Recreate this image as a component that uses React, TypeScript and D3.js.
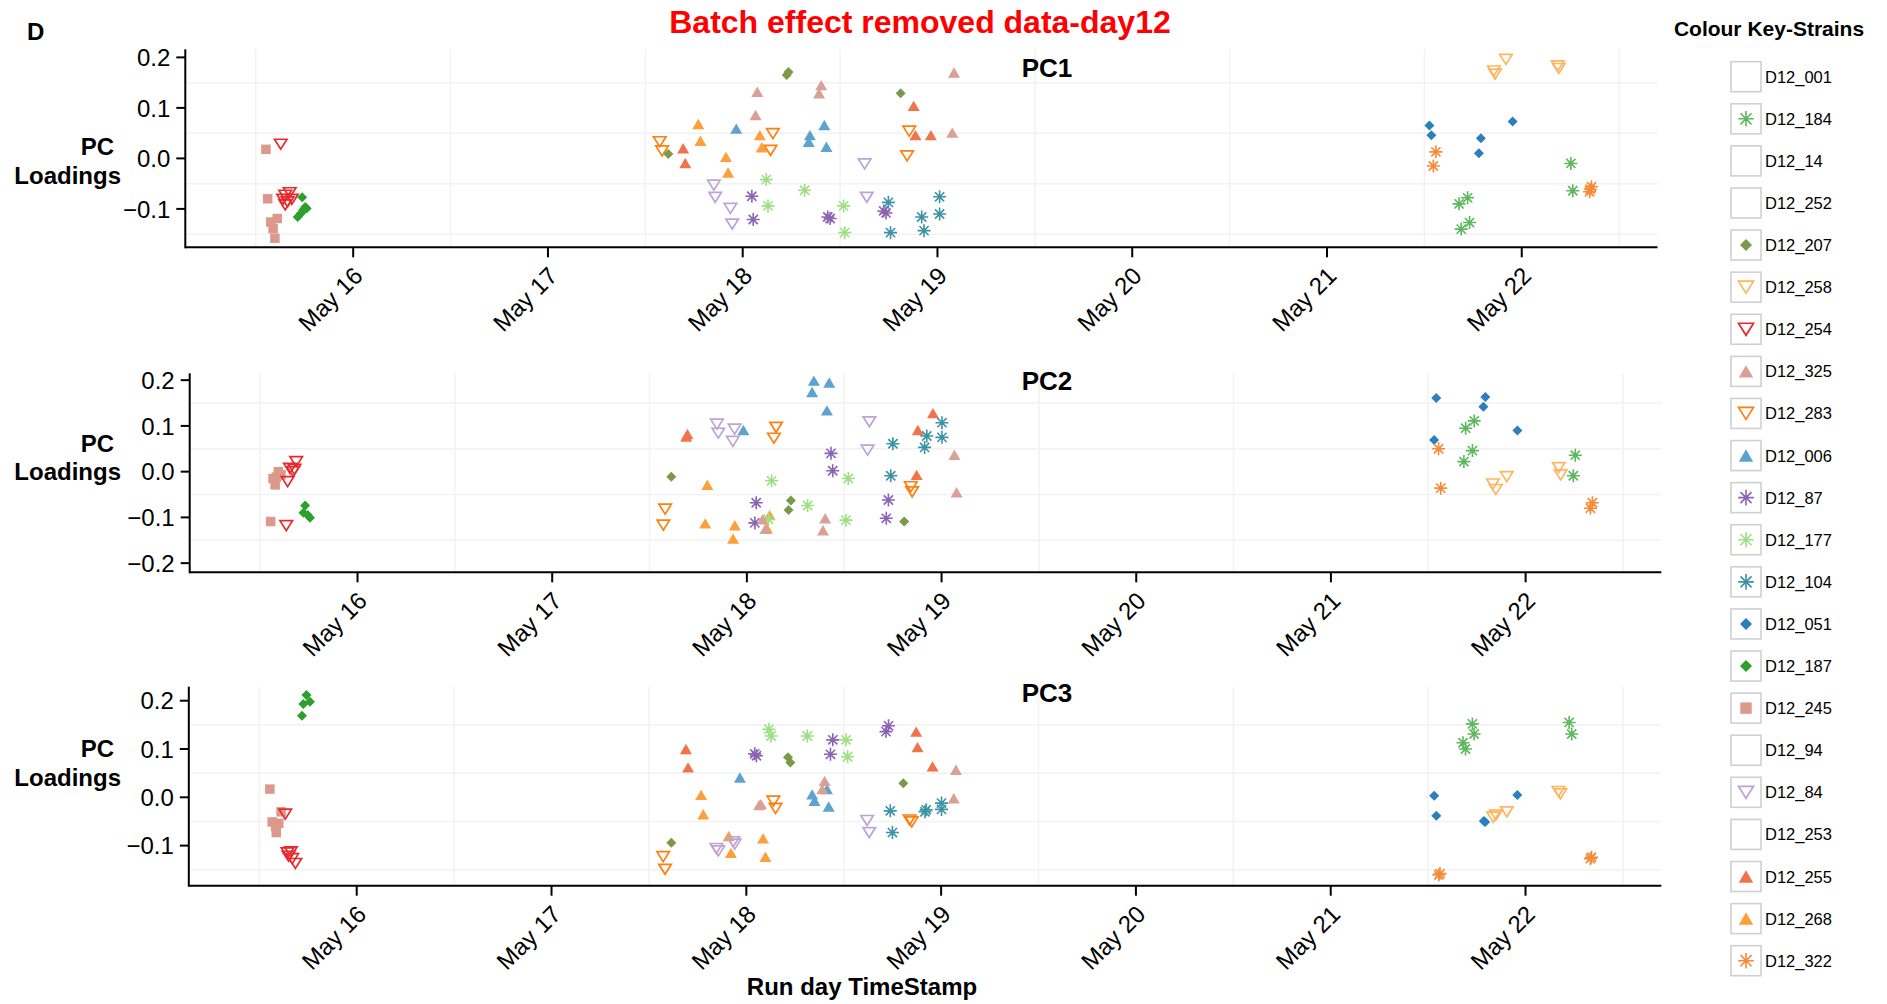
import React, { useEffect, useRef } from 'react';
import * as d3 from 'd3';

// Strains in legend order, with their marker shape and colour
const strains = [
  'D12_001', 'D12_184', 'D12_14', 'D12_252', 'D12_207', 'D12_258', 'D12_254', 'D12_325',
  'D12_283', 'D12_006', 'D12_87', 'D12_177', 'D12_104', 'D12_051', 'D12_187', 'D12_245',
  'D12_94', 'D12_84', 'D12_253', 'D12_255', 'D12_268', 'D12_322',
];
const strainShapes = [
  'none', 'asterisk', 'none', 'none', 'diamond', 'triDown', 'triDown', 'triUp',
  'triDown', 'triUp', 'asterisk', 'asterisk', 'asterisk', 'diamond', 'diamond', 'square',
  'none', 'triDown', 'none', 'triUp', 'triUp', 'asterisk',
];
const strainColors = [
  '#ffffff', '#5cb85c', '#ffffff', '#ffffff', '#7a9a4a', '#ffb45e', '#e8282b', '#d9a096',
  '#ff7f0e', '#5da3d0', '#8a63b5', '#9ddf82', '#3c92a6', '#2b7fbd', '#2ca02c', '#dc998b',
  '#ffffff', '#bea2d8', '#ffffff', '#f0734c', '#fd9f3a', '#f68a36',
];

// run time (day of May, decimal) and PC loading, per panel
const pc1Points: [string, number, number][] = [
  ['D12_245', 15.552, 0.018], ['D12_245', 15.561, -0.08], ['D12_245', 15.577, -0.126], ['D12_245', 15.589, -0.139], ['D12_245', 15.61, -0.119], ['D12_245', 15.598, -0.158],
  ['D12_254', 15.628, 0.028], ['D12_254', 15.651, -0.073], ['D12_254', 15.674, -0.068], ['D12_254', 15.64, -0.081], ['D12_254', 15.663, -0.086], ['D12_254', 15.685, -0.081], ['D12_254', 15.651, -0.092],
  ['D12_187', 15.738, -0.077], ['D12_187', 15.754, -0.096], ['D12_187', 15.743, -0.102], ['D12_187', 15.761, -0.099], ['D12_187', 15.715, -0.116], ['D12_187', 15.731, -0.109],
  ['D12_283', 17.574, 0.033], ['D12_283', 17.586, 0.015], ['D12_283', 18.155, 0.049], ['D12_283', 18.143, 0.016], ['D12_283', 18.855, 0.054], ['D12_283', 18.844, 0.005],
  ['D12_207', 17.618, 0.0085], ['D12_207', 18.226, 0.165], ['D12_207', 18.235, 0.171], ['D12_207', 18.811, 0.129],
  ['D12_255', 17.694, 0.02], ['D12_255', 17.705, -0.009], ['D12_255', 18.878, 0.104], ['D12_255', 18.887, 0.046], ['D12_255', 18.966, 0.046],
  ['D12_268', 17.772, 0.068], ['D12_268', 17.783, 0.035], ['D12_268', 17.914, 0.003], ['D12_268', 17.925, -0.028], ['D12_268', 18.088, 0.046], ['D12_268', 18.098, 0.022],
  ['D12_006', 17.967, 0.059], ['D12_006', 18.345, 0.046], ['D12_006', 18.339, 0.033], ['D12_006', 18.419, 0.066], ['D12_006', 18.43, 0.023],
  ['D12_325', 18.075, 0.132], ['D12_325', 18.066, 0.086], ['D12_325', 18.403, 0.145], ['D12_325', 18.392, 0.129], ['D12_325', 19.085, 0.17], ['D12_325', 19.076, 0.051],
  ['D12_84', 17.852, -0.053], ['D12_84', 17.859, -0.077], ['D12_84', 17.937, -0.099], ['D12_84', 17.946, -0.13], ['D12_84', 18.626, -0.011], ['D12_84', 18.637, -0.077],
  ['D12_87', 18.047, -0.075], ['D12_87', 18.054, -0.121], ['D12_87', 18.437, -0.116], ['D12_87', 18.449, -0.119], ['D12_87', 18.724, -0.104], ['D12_87', 18.736, -0.108],
  ['D12_177', 18.121, -0.042], ['D12_177', 18.13, -0.094], ['D12_177', 18.318, -0.063], ['D12_177', 18.518, -0.094], ['D12_177', 18.524, -0.147],
  ['D12_104', 18.748, -0.087], ['D12_104', 18.759, -0.147], ['D12_104', 18.919, -0.116], ['D12_104', 18.931, -0.143], ['D12_104', 19.011, -0.076], ['D12_104', 19.011, -0.11],
  ['D12_258', 21.857, 0.173], ['D12_258', 21.863, 0.167], ['D12_258', 21.919, 0.196], ['D12_258', 22.185, 0.183], ['D12_258', 22.19, 0.178],
  ['D12_051', 21.526, 0.065], ['D12_051', 21.536, 0.046], ['D12_051', 21.79, 0.04], ['D12_051', 21.78, 0.01], ['D12_051', 21.953, 0.073],
  ['D12_322', 21.559, 0.013], ['D12_322', 21.546, -0.015], ['D12_322', 22.358, -0.056], ['D12_322', 22.352, -0.061], ['D12_322', 22.348, -0.066],
  ['D12_184', 21.678, -0.09], ['D12_184', 21.722, -0.078], ['D12_184', 21.689, -0.14], ['D12_184', 21.732, -0.127], ['D12_184', 22.252, -0.01], ['D12_184', 22.262, -0.064],
];

const pc2Points: [string, number, number][] = [
  ['D12_245', 15.554, -0.109], ['D12_245', 15.566, -0.015], ['D12_245', 15.593, 0.0], ['D12_245', 15.577, -0.029], ['D12_245', 15.584, -0.012], ['D12_245', 15.607, -0.007],
  ['D12_254', 15.685, 0.022], ['D12_254', 15.653, 0.007], ['D12_254', 15.669, 0.0], ['D12_254', 15.676, 0.005], ['D12_254', 15.641, -0.022], ['D12_254', 15.634, -0.118],
  ['D12_187', 15.731, -0.074], ['D12_187', 15.722, -0.09], ['D12_187', 15.744, -0.095], ['D12_187', 15.756, -0.101],
  ['D12_207', 17.612, -0.011], ['D12_207', 18.226, -0.063], ['D12_207', 18.214, -0.084], ['D12_207', 18.808, -0.109],
  ['D12_283', 17.58, -0.082], ['D12_283', 17.571, -0.117], ['D12_283', 18.15, 0.097], ['D12_283', 18.139, 0.073], ['D12_283', 18.842, -0.033], ['D12_283', 18.849, -0.044],
  ['D12_255', 17.695, 0.082], ['D12_255', 17.688, 0.077], ['D12_255', 18.956, 0.128], ['D12_255', 18.878, 0.091], ['D12_255', 18.872, -0.007],
  ['D12_268', 17.797, -0.029], ['D12_268', 17.786, -0.113], ['D12_268', 17.938, -0.117], ['D12_268', 17.929, -0.146], ['D12_268', 18.117, -0.095], ['D12_268', 18.103, -0.124],
  ['D12_006', 18.344, 0.199], ['D12_006', 18.423, 0.195], ['D12_006', 18.335, 0.174], ['D12_006', 18.411, 0.134], ['D12_006', 17.982, 0.091],
  ['D12_84', 17.846, 0.104], ['D12_84', 17.853, 0.084], ['D12_84', 17.937, 0.093], ['D12_84', 17.928, 0.066], ['D12_84', 18.629, 0.109], ['D12_84', 18.62, 0.047],
  ['D12_87', 18.432, 0.04], ['D12_87', 18.441, 0.002], ['D12_87', 18.048, -0.068], ['D12_87', 18.041, -0.112], ['D12_87', 18.727, -0.062], ['D12_87', 18.716, -0.102],
  ['D12_177', 18.127, -0.02], ['D12_177', 18.111, -0.104], ['D12_177', 18.521, -0.015], ['D12_177', 18.312, -0.074], ['D12_177', 18.509, -0.106],
  ['D12_325', 18.402, -0.102], ['D12_325', 18.391, -0.128], ['D12_325', 18.081, -0.104], ['D12_325', 18.095, -0.125], ['D12_325', 19.066, 0.037], ['D12_325', 19.077, -0.045],
  ['D12_104', 18.75, 0.061], ['D12_104', 18.739, -0.009], ['D12_104', 18.924, 0.078], ['D12_104', 18.913, 0.053], ['D12_104', 19.002, 0.107], ['D12_104', 19.002, 0.075],
  ['D12_051', 21.541, 0.161], ['D12_051', 21.793, 0.163], ['D12_051', 21.783, 0.142], ['D12_051', 21.958, 0.09], ['D12_051', 21.53, 0.069],
  ['D12_184', 21.692, 0.095], ['D12_184', 21.736, 0.111], ['D12_184', 21.727, 0.046], ['D12_184', 21.683, 0.022], ['D12_184', 22.255, 0.036], ['D12_184', 22.245, -0.009],
  ['D12_322', 21.553, 0.05], ['D12_322', 21.564, -0.036], ['D12_322', 22.343, -0.068], ['D12_322', 22.333, -0.08],
  ['D12_258', 21.832, -0.027], ['D12_258', 21.847, -0.039], ['D12_258', 21.903, -0.011], ['D12_258', 22.17, 0.009], ['D12_258', 22.18, -0.007],
];

const pc3Points: [string, number, number][] = [
  ['D12_187', 15.742, 0.212], ['D12_187', 15.726, 0.193], ['D12_187', 15.76, 0.198], ['D12_187', 15.719, 0.169],
  ['D12_245', 15.554, 0.017], ['D12_245', 15.566, -0.051], ['D12_245', 15.584, -0.061], ['D12_245', 15.587, -0.073], ['D12_245', 15.6, -0.054], ['D12_245', 15.612, -0.03],
  ['D12_254', 15.633, -0.035], ['D12_254', 15.645, -0.115], ['D12_254', 15.662, -0.113], ['D12_254', 15.65, -0.122], ['D12_254', 15.669, -0.127], ['D12_254', 15.685, -0.137],
  ['D12_207', 17.615, -0.094], ['D12_207', 18.214, 0.083], ['D12_207', 18.226, 0.072], ['D12_207', 18.806, 0.029],
  ['D12_283', 17.573, -0.123], ['D12_283', 17.583, -0.149], ['D12_283', 18.139, -0.008], ['D12_283', 18.15, -0.023], ['D12_283', 18.838, -0.047], ['D12_283', 18.849, -0.051],
  ['D12_255', 17.69, 0.1], ['D12_255', 17.701, 0.062], ['D12_255', 18.872, 0.136], ['D12_255', 18.879, 0.104], ['D12_255', 18.956, 0.064],
  ['D12_268', 17.768, 0.005], ['D12_268', 17.779, -0.035], ['D12_268', 17.91, -0.08], ['D12_268', 17.921, -0.115], ['D12_268', 18.086, -0.085], ['D12_268', 18.098, -0.123],
  ['D12_84', 17.846, -0.106], ['D12_84', 17.856, -0.111], ['D12_84', 17.933, -0.092], ['D12_84', 17.94, -0.097], ['D12_84', 18.62, -0.048], ['D12_84', 18.631, -0.073],
  ['D12_006', 17.967, 0.041], ['D12_006', 18.338, 0.006], ['D12_006', 18.35, -0.007], ['D12_006', 18.414, 0.017], ['D12_006', 18.423, -0.019],
  ['D12_325', 18.066, -0.016], ['D12_325', 18.075, -0.014], ['D12_325', 18.402, 0.034], ['D12_325', 18.39, 0.017], ['D12_325', 19.076, 0.057], ['D12_325', 19.065, -0.002],
  ['D12_177', 18.116, 0.141], ['D12_177', 18.127, 0.127], ['D12_177', 18.313, 0.127], ['D12_177', 18.512, 0.119], ['D12_177', 18.52, 0.084],
  ['D12_87', 18.043, 0.09], ['D12_87', 18.052, 0.086], ['D12_87', 18.444, 0.119], ['D12_87', 18.432, 0.089], ['D12_87', 18.73, 0.148], ['D12_87', 18.717, 0.136],
  ['D12_104', 18.739, -0.028], ['D12_104', 18.75, -0.073], ['D12_104', 18.917, -0.03], ['D12_104', 18.923, -0.026], ['D12_104', 19.002, -0.012], ['D12_104', 19.002, -0.025],
  ['D12_184', 21.727, 0.152], ['D12_184', 21.736, 0.131], ['D12_184', 21.679, 0.113], ['D12_184', 21.692, 0.1], ['D12_184', 22.224, 0.155], ['D12_184', 22.237, 0.131],
  ['D12_051', 21.531, 0.003], ['D12_051', 21.542, -0.038], ['D12_051', 21.786, -0.049], ['D12_051', 21.793, -0.051], ['D12_051', 21.958, 0.005],
  ['D12_258', 21.834, -0.041], ['D12_258', 21.848, -0.037], ['D12_258', 21.904, -0.03], ['D12_258', 22.169, 0.012], ['D12_258', 22.179, 0.007],
  ['D12_322', 21.555, -0.161], ['D12_322', 21.561, -0.158], ['D12_322', 22.339, -0.124], ['D12_322', 22.333, -0.127],
];

const panelNames = ['PC1', 'PC2', 'PC3'];
const pc1YTicks = [-0.1, 0, 0.1, 0.2];
const pc2YTicks = [-0.2, -0.1, 0, 0.1, 0.2];
const pc3YTicks = [-0.1, 0, 0.1, 0.2];

// layout of the three stacked panels (pixels)
const panelLayout = [
  { left: 185.3, right: 1657.5, top: 49.3, bottom: 247.3, yMin: -0.176, yMax: 0.216, titleY: 77, pcY: 155, loadY: 184 },
  { left: 189.7, right: 1661.3, top: 373.3, bottom: 572.3, yMin: -0.22, yMax: 0.215, titleY: 390, pcY: 451.7, loadY: 480.3 },
  { left: 188.8, right: 1661.3, top: 686.7, bottom: 885.7, yMin: -0.183, yMax: 0.229, titleY: 701.7, pcY: 756.7, loadY: 786 },
];

const FONT = 'Liberation Sans, Arial, Helvetica, sans-serif';
const dayToDate = (d: number) => new Date(Date.UTC(2016, 4, 1) + (d - 1) * 864e5);

function shapePath(shape: string, k: number) {
  const p = d3.path();
  if (shape === 'triUp' || shape === 'triDown') {
    const a = 12 * k;
    const h = a * 0.866;
    if (shape === 'triUp') {
      p.moveTo(0, -h / 2); p.lineTo(a / 2, h / 2); p.lineTo(-a / 2, h / 2);
    } else {
      const b = 12.5 * k;
      const hb = b * 0.8;
      p.moveTo(-b / 2, -hb / 2); p.lineTo(b / 2, -hb / 2); p.lineTo(0, hb / 2);
    }
    p.closePath();
  } else if (shape === 'square') {
    const s = 9.5 * k;
    p.rect(-s / 2, -s / 2, s, s);
  } else if (shape === 'diamond') {
    const r = 5 * k;
    p.moveTo(0, -r); p.lineTo(r, 0); p.lineTo(0, r); p.lineTo(-r, 0); p.closePath();
  } else if (shape === 'asterisk') {
    const r = 6.5 * k;
    const q = r * Math.SQRT1_2;
    p.moveTo(-r, 0); p.lineTo(r, 0);
    p.moveTo(0, -r); p.lineTo(0, r);
    p.moveTo(-q, -q); p.lineTo(q, q);
    p.moveTo(-q, q); p.lineTo(q, -q);
  }
  return p.toString();
}

function styleMarker(sel: any, shape: string, color: string) {
  if (shape === 'triDown' || shape === 'asterisk') {
    sel.attr('fill', 'none').attr('stroke', color).attr('stroke-width', shape === 'asterisk' ? 1.6 : 1.7);
  } else {
    sel.attr('fill', color).attr('stroke', 'none');
  }
}

export default function App() {
  const svgRef = useRef<SVGSVGElement>(null);

  useEffect(() => {
    document.body.style.margin = '0';
    const svg = d3.select(svgRef.current);
    svg.selectAll('*').remove();

    const shapeOf = new Map(strains.map((s, i) => [s, strainShapes[i]]));
    const colorOf = new Map(strains.map((s, i) => [s, strainColors[i]]));
    const allPoints = [pc1Points, pc2Points, pc3Points];
    const allTicks = [pc1YTicks, pc2YTicks, pc3YTicks];
    const fmt = d3.format('.1f');
    const dayFmt = d3.utcFormat('%b %d');

    // title and panel letter
    svg.append('text').attr('x', 920).attr('y', 33).attr('text-anchor', 'middle')
      .attr('font-size', 32).attr('font-weight', 'bold').attr('fill', '#ff0000')
      .text('Batch effect removed data-day12');
    svg.append('text').attr('x', 27).attr('y', 40).attr('font-size', 24).attr('font-weight', 'bold')
      .text('D');

    panelLayout.forEach((L, pi) => {
      const x = d3.scaleUtc().domain([dayToDate(15.138), dayToDate(22.697)]).range([L.left, L.right]);
      const y = d3.scaleLinear().domain([L.yMin, L.yMax]).range([L.bottom, L.top]);
      const g = svg.append('g');

      // minor grid lines (half days, half tick steps)
      const halfDays = d3.range(15, 23).map((d) => dayToDate(d + 0.5));
      const halfY = allTicks[pi].slice(0, -1).map((t, i) => (t + allTicks[pi][i + 1]) / 2)
        .concat([allTicks[pi][0] - 0.05]).filter((v) => v > L.yMin);
      g.selectAll('.vgrid').data(halfDays).enter().append('line')
        .attr('x1', (d) => x(d)).attr('x2', (d) => x(d)).attr('y1', L.top).attr('y2', L.bottom)
        .attr('stroke', '#f2f2f2').attr('stroke-width', 1.5);
      g.selectAll('.hgrid').data(halfY).enter().append('line')
        .attr('x1', L.left).attr('x2', L.right).attr('y1', (d) => y(d)).attr('y2', (d) => y(d))
        .attr('stroke', '#f2f2f2').attr('stroke-width', 1.5);

      // points
      allPoints[pi].forEach(([strain, day, v]) => {
        const shape = shapeOf.get(strain) as string;
        const m = g.append('path').attr('d', shapePath(shape, 1))
          .attr('transform', `translate(${x(dayToDate(day))},${y(v)})`);
        styleMarker(m, shape, colorOf.get(strain) as string);
      });

      // axes
      g.append('line').attr('x1', L.left).attr('x2', L.right).attr('y1', L.bottom).attr('y2', L.bottom)
        .attr('stroke', '#000').attr('stroke-width', 2);
      g.append('line').attr('x1', L.left).attr('x2', L.left).attr('y1', L.top).attr('y2', L.bottom + 1)
        .attr('stroke', '#000').attr('stroke-width', 2);

      const days = x.ticks(d3.utcDay.every(1) as any);
      days.forEach((d) => {
        g.append('line').attr('x1', x(d)).attr('x2', x(d)).attr('y1', L.bottom).attr('y2', L.bottom + 10)
          .attr('stroke', '#000').attr('stroke-width', 2);
        g.append('text').attr('transform', `translate(${x(d) + 11},${L.bottom + 30}) rotate(-45)`)
          .attr('text-anchor', 'end').attr('font-size', 24).text(dayFmt(d));
      });
      allTicks[pi].forEach((t) => {
        g.append('line').attr('x1', L.left - 9).attr('x2', L.left).attr('y1', y(t)).attr('y2', y(t))
          .attr('stroke', '#000').attr('stroke-width', 2);
        g.append('text').attr('x', L.left - 15).attr('y', y(t)).attr('dy', '0.36em')
          .attr('text-anchor', 'end').attr('font-size', 24).text(fmt(t));
      });

      g.append('text').attr('x', 114).attr('y', L.pcY).attr('text-anchor', 'end')
        .attr('font-size', 24).attr('font-weight', 'bold').text('PC');
      g.append('text').attr('x', 121).attr('y', L.loadY).attr('text-anchor', 'end')
        .attr('font-size', 24).attr('font-weight', 'bold').text('Loadings');
      g.append('text').attr('x', 1047).attr('y', L.titleY).attr('text-anchor', 'middle')
        .attr('font-size', 26).attr('font-weight', 'bold').text(panelNames[pi]);
    });

    svg.append('text').attr('x', 862).attr('y', 995).attr('text-anchor', 'middle')
      .attr('font-size', 24).attr('font-weight', 'bold').text('Run day TimeStamp');

    // legend
    svg.append('text').attr('x', 1769).attr('y', 36).attr('text-anchor', 'middle')
      .attr('font-size', 21).attr('font-weight', 'bold').text('Colour Key-Strains');
    const ly = d3.scalePoint().domain(strains).range([76.7, 960.7]);
    strains.forEach((s, i) => {
      const cy = ly(s) as number;
      const lg = svg.append('g').attr('transform', `translate(1746,${cy})`);
      lg.append('rect').attr('x', -15).attr('y', -15).attr('width', 30).attr('height', 30)
        .attr('fill', '#fff').attr('stroke', '#d0d0d0').attr('stroke-width', 1.6);
      if (strainShapes[i] !== 'none') {
        const m = lg.append('path').attr('d', shapePath(strainShapes[i], 1.2));
        styleMarker(m, strainShapes[i], strainColors[i]);
      }
      lg.append('text').attr('x', 19).attr('y', 6).attr('font-size', 16.5).text(s);
    });
  }, []);

  return (
    <svg ref={svgRef} width={1887} height={1004} fontFamily={FONT}
      style={{ display: 'block', background: '#fff' }} />
  );
}
